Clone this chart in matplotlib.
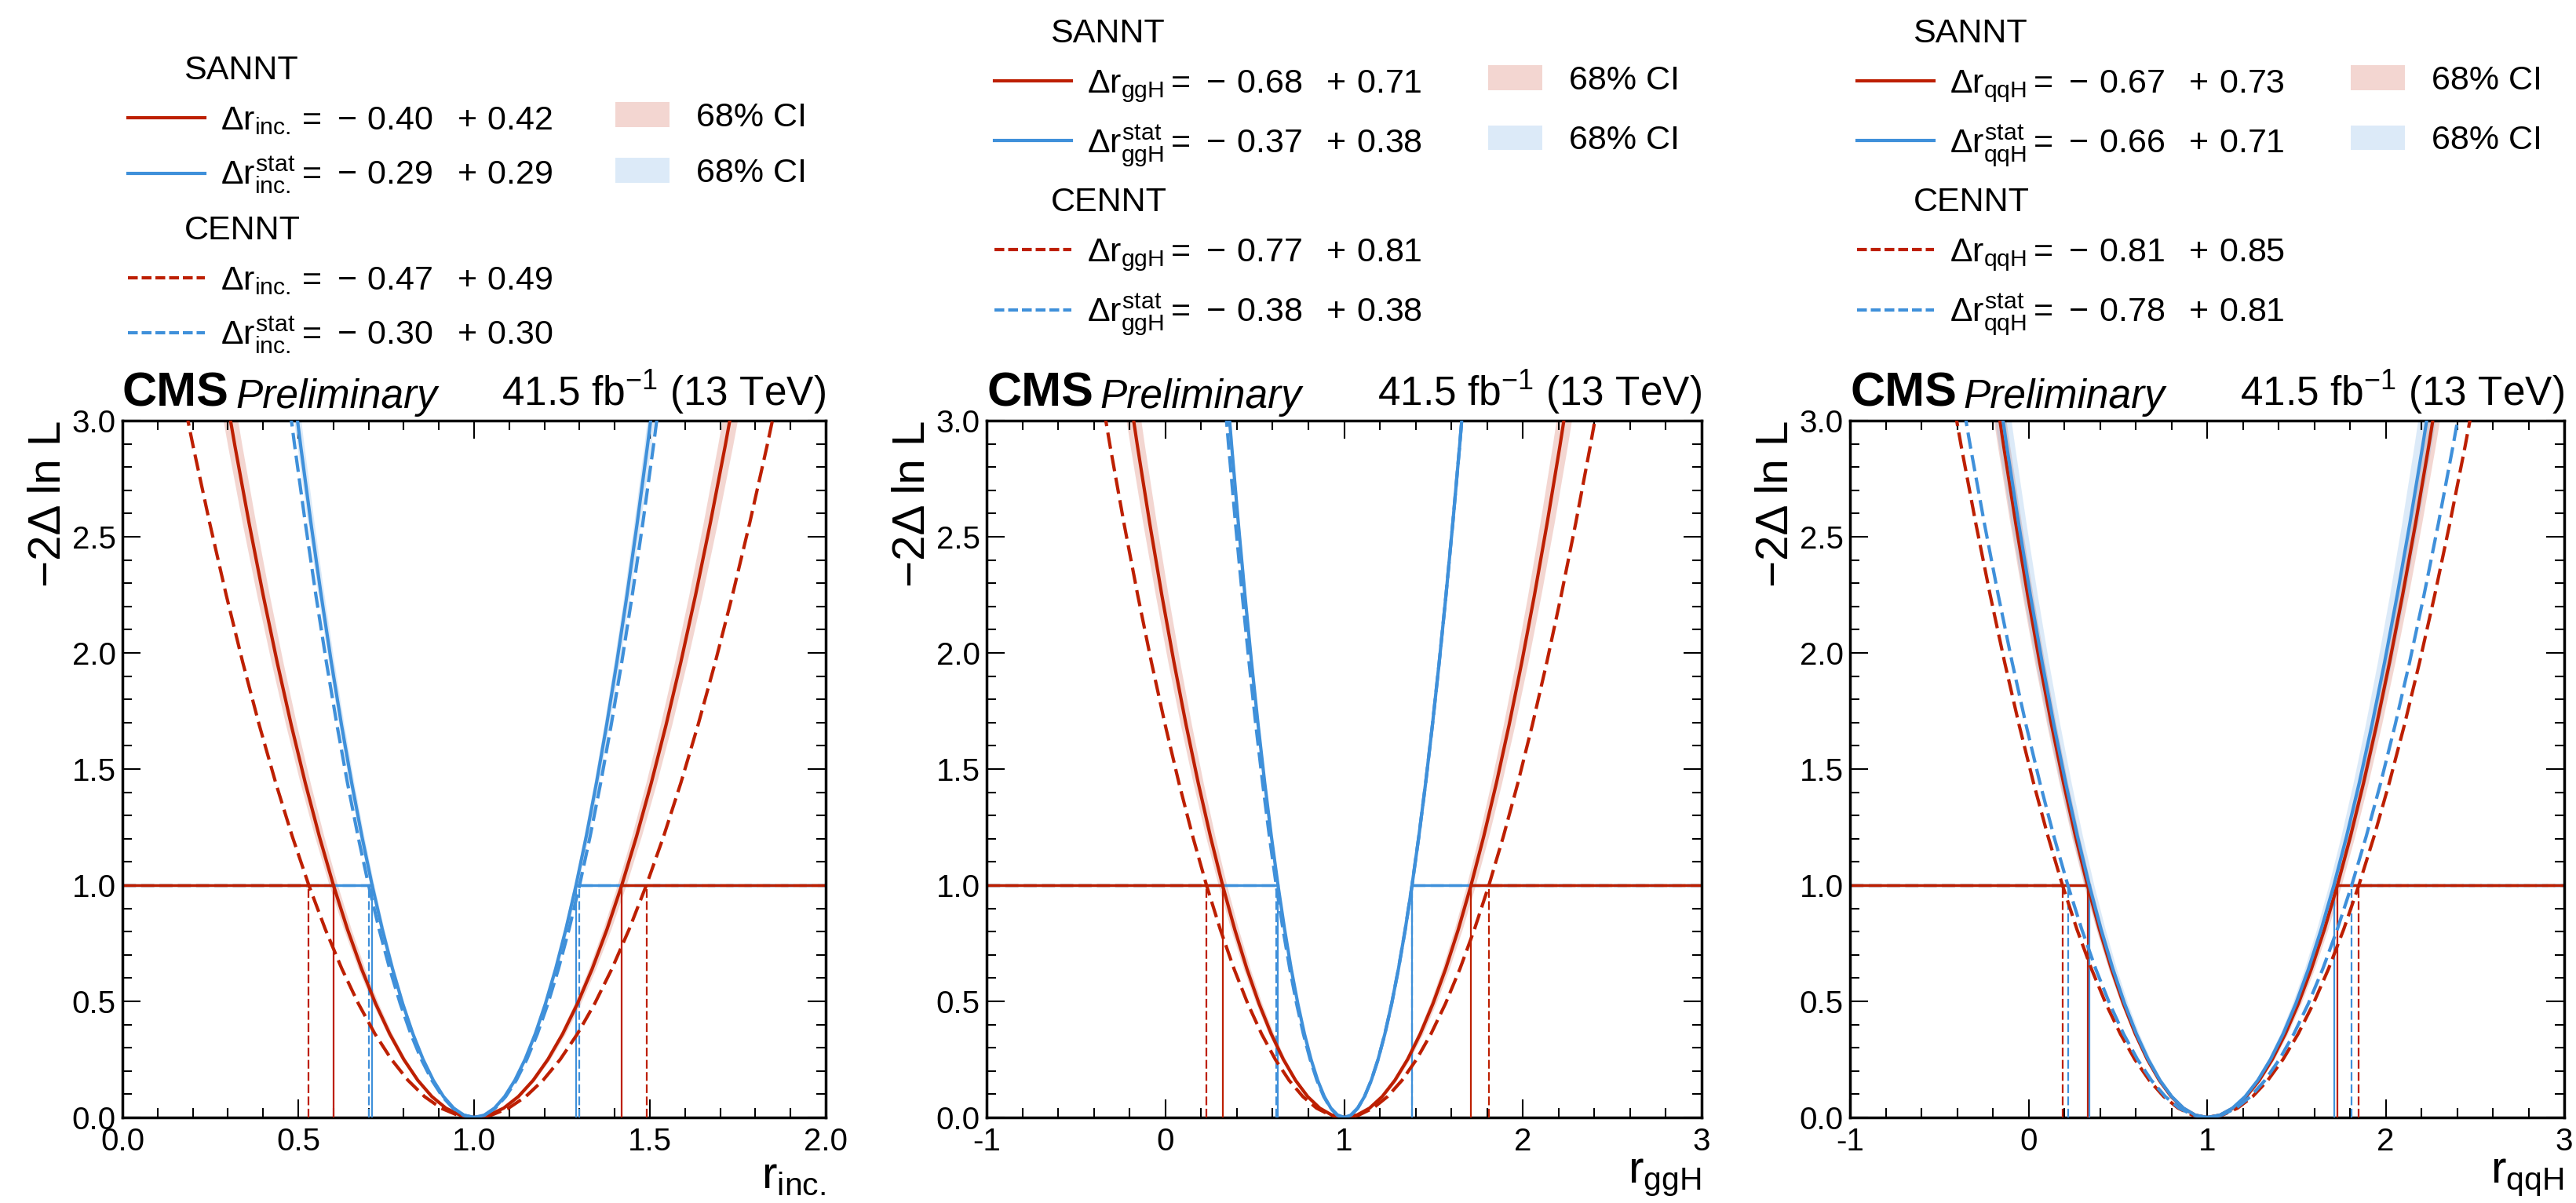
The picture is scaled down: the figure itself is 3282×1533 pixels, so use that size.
import matplotlib
matplotlib.use("Agg")
import matplotlib.pyplot as plt
from matplotlib.lines import Line2D
from matplotlib.patches import Patch
from matplotlib.ticker import MultipleLocator, FormatStrFormatter

plt.rcParams.update({
    "font.family": ["Liberation Sans", "DejaVu Sans"],
    "mathtext.fontset": "custom",
    "mathtext.rm": "Liberation Sans",
    "mathtext.it": "Liberation Sans",
    "mathtext.bf": "Liberation Sans:bold",
    "axes.unicode_minus": False,
})

# ---------------------------------------------------------------- data
best_fit = 1.0
threshold = 1.0

# -2 Delta lnL levels at which the scan positions were read
y_levels = [0.00, 0.01, 0.04, 0.09, 0.16, 0.25, 0.36, 0.49, 0.64, 0.81, 1.00,
            1.21, 1.44, 1.69, 1.96, 2.25, 2.56, 2.89, 3.24]

# panel 1 : r_inc.
inc_sannt_r_lo = [1.00, 0.96, 0.92, 0.88, 0.84, 0.80, 0.76, 0.72, 0.68, 0.64, 0.60,
                  0.56, 0.52, 0.48, 0.44, 0.40, 0.36, 0.32, 0.28]
inc_sannt_r_hi = [1.000, 1.042, 1.084, 1.126, 1.168, 1.210, 1.252, 1.294, 1.336, 1.378, 1.420,
                  1.462, 1.504, 1.546, 1.588, 1.630, 1.672, 1.714, 1.756]
inc_sannt_stat_r_lo = [1.000, 0.971, 0.942, 0.913, 0.884, 0.855, 0.826, 0.797, 0.768, 0.739, 0.710,
                       0.681, 0.652, 0.623, 0.594, 0.565, 0.536, 0.507, 0.478]
inc_sannt_stat_r_hi = [1.000, 1.029, 1.058, 1.087, 1.116, 1.145, 1.174, 1.203, 1.232, 1.261, 1.290,
                       1.319, 1.348, 1.377, 1.406, 1.435, 1.464, 1.493, 1.522]
inc_cennt_r_lo = [1.000, 0.953, 0.906, 0.859, 0.812, 0.765, 0.718, 0.671, 0.624, 0.577, 0.530,
                  0.483, 0.436, 0.389, 0.342, 0.295, 0.248, 0.201, 0.154]
inc_cennt_r_hi = [1.000, 1.049, 1.098, 1.147, 1.196, 1.245, 1.294, 1.343, 1.392, 1.441, 1.490,
                  1.539, 1.588, 1.637, 1.686, 1.735, 1.784, 1.833, 1.882]
inc_cennt_stat_r_lo = [1.00, 0.97, 0.94, 0.91, 0.88, 0.85, 0.82, 0.79, 0.76, 0.73, 0.70,
                       0.67, 0.64, 0.61, 0.58, 0.55, 0.52, 0.49, 0.46]
inc_cennt_stat_r_hi = [1.00, 1.03, 1.06, 1.09, 1.12, 1.15, 1.18, 1.21, 1.24, 1.27, 1.30,
                       1.33, 1.36, 1.39, 1.42, 1.45, 1.48, 1.51, 1.54]

# panel 2 : r_ggH
ggH_sannt_r_lo = [1.000, 0.932, 0.864, 0.796, 0.728, 0.660, 0.592, 0.524, 0.456, 0.388, 0.320,
                  0.252, 0.184, 0.116, 0.048, -0.020, -0.088, -0.156, -0.224]
ggH_sannt_r_hi = [1.000, 1.071, 1.142, 1.213, 1.284, 1.355, 1.426, 1.497, 1.568, 1.639, 1.710,
                  1.781, 1.852, 1.923, 1.994, 2.065, 2.136, 2.207, 2.278]
ggH_sannt_stat_r_lo = [1.000, 0.963, 0.926, 0.889, 0.852, 0.815, 0.778, 0.741, 0.704, 0.667, 0.630,
                       0.593, 0.556, 0.519, 0.482, 0.445, 0.408, 0.371, 0.334]
ggH_sannt_stat_r_hi = [1.000, 1.038, 1.076, 1.114, 1.152, 1.190, 1.228, 1.266, 1.304, 1.342, 1.380,
                       1.418, 1.456, 1.494, 1.532, 1.570, 1.608, 1.646, 1.684]
ggH_cennt_r_lo = [1.000, 0.923, 0.846, 0.769, 0.692, 0.615, 0.538, 0.461, 0.384, 0.307, 0.230,
                  0.153, 0.076, -0.001, -0.078, -0.155, -0.232, -0.309, -0.386]
ggH_cennt_r_hi = [1.000, 1.081, 1.162, 1.243, 1.324, 1.405, 1.486, 1.567, 1.648, 1.729, 1.810,
                  1.891, 1.972, 2.053, 2.134, 2.215, 2.296, 2.377, 2.458]
ggH_cennt_stat_r_lo = [1.000, 0.962, 0.924, 0.886, 0.848, 0.810, 0.772, 0.734, 0.696, 0.658, 0.620,
                       0.582, 0.544, 0.506, 0.468, 0.430, 0.392, 0.354, 0.316]
ggH_cennt_stat_r_hi = [1.000, 1.038, 1.076, 1.114, 1.152, 1.190, 1.228, 1.266, 1.304, 1.342, 1.380,
                       1.418, 1.456, 1.494, 1.532, 1.570, 1.608, 1.646, 1.684]

# panel 3 : r_qqH
qqH_sannt_r_lo = [1.000, 0.933, 0.866, 0.799, 0.732, 0.665, 0.598, 0.531, 0.464, 0.397, 0.330,
                  0.263, 0.196, 0.129, 0.062, -0.005, -0.072, -0.139, -0.206]
qqH_sannt_r_hi = [1.000, 1.073, 1.146, 1.219, 1.292, 1.365, 1.438, 1.511, 1.584, 1.657, 1.730,
                  1.803, 1.876, 1.949, 2.022, 2.095, 2.168, 2.241, 2.314]
qqH_sannt_stat_r_lo = [1.000, 0.934, 0.868, 0.802, 0.736, 0.670, 0.604, 0.538, 0.472, 0.406, 0.340,
                       0.274, 0.208, 0.142, 0.076, 0.010, -0.056, -0.122, -0.188]
qqH_sannt_stat_r_hi = [1.000, 1.071, 1.142, 1.213, 1.284, 1.355, 1.426, 1.497, 1.568, 1.639, 1.710,
                       1.781, 1.852, 1.923, 1.994, 2.065, 2.136, 2.207, 2.278]
qqH_cennt_r_lo = [1.000, 0.919, 0.838, 0.757, 0.676, 0.595, 0.514, 0.433, 0.352, 0.271, 0.190,
                  0.109, 0.028, -0.053, -0.134, -0.215, -0.296, -0.377, -0.458]
qqH_cennt_r_hi = [1.000, 1.085, 1.170, 1.255, 1.340, 1.425, 1.510, 1.595, 1.680, 1.765, 1.850,
                  1.935, 2.020, 2.105, 2.190, 2.275, 2.360, 2.445, 2.530]
qqH_cennt_stat_r_lo = [1.000, 0.922, 0.844, 0.766, 0.688, 0.610, 0.532, 0.454, 0.376, 0.298, 0.220,
                       0.142, 0.064, -0.014, -0.092, -0.170, -0.248, -0.326, -0.404]
qqH_cennt_stat_r_hi = [1.000, 1.081, 1.162, 1.243, 1.324, 1.405, 1.486, 1.567, 1.648, 1.729, 1.810,
                       1.891, 1.972, 2.053, 2.134, 2.215, 2.296, 2.377, 2.458]

# quoted intervals (-, +)
inc_sannt_err = [0.40, 0.42]
inc_sannt_stat_err = [0.29, 0.29]
inc_cennt_err = [0.47, 0.49]
inc_cennt_stat_err = [0.30, 0.30]
ggH_sannt_err = [0.68, 0.71]
ggH_sannt_stat_err = [0.37, 0.38]
ggH_cennt_err = [0.77, 0.81]
ggH_cennt_stat_err = [0.38, 0.38]
qqH_sannt_err = [0.67, 0.73]
qqH_sannt_stat_err = [0.66, 0.71]
qqH_cennt_err = [0.81, 0.85]
qqH_cennt_stat_err = [0.78, 0.81]

# relative half-width of the 68% CI bands (SANNT total, SANNT stat)
band_width_tot = [0.03, 0.035, 0.03]
band_width_stat = [0.02, 0.01, 0.04]

poi_names = ["inc.", "ggH", "qqH"]
x_ranges = [(0.0, 2.0), (-1.0, 3.0), (-1.0, 3.0)]
x_major = [0.5, 1.0, 1.0]
x_minor = [0.1, 0.2, 0.2]
x_fmt = ["%.1f", "%d", "%d"]
lumi_text = r"41.5 fb$^{-1}$ (13 TeV)"

# ---------------------------------------------------------------- style / layout
RED = "#bd1f01"
BLUE = "#3f90da"
W_PX, H_PX, DPI = 3282, 1533, 100
fig = plt.figure(figsize=(W_PX / DPI, H_PX / DPI), dpi=DPI)

ax_lr_px = [(156, 1052), (1257, 2168), (2357, 3267)]
ax_top_px, ax_bot_px = 536, 1424
leg_left_px = [163, 1267, 2366]
leg_top_px = [70, 23, 23]
ci_left_px = [784, 1896, 2995]

FS_TICK = 29
FS_LEG = 31
FS_LABEL = 42
FS_CMS = 44
FS_SUB = 37

curve_sets = [
    [(inc_sannt_r_lo, inc_sannt_r_hi, inc_sannt_err),
     (inc_sannt_stat_r_lo, inc_sannt_stat_r_hi, inc_sannt_stat_err),
     (inc_cennt_r_lo, inc_cennt_r_hi, inc_cennt_err),
     (inc_cennt_stat_r_lo, inc_cennt_stat_r_hi, inc_cennt_stat_err)],
    [(ggH_sannt_r_lo, ggH_sannt_r_hi, ggH_sannt_err),
     (ggH_sannt_stat_r_lo, ggH_sannt_stat_r_hi, ggH_sannt_stat_err),
     (ggH_cennt_r_lo, ggH_cennt_r_hi, ggH_cennt_err),
     (ggH_cennt_stat_r_lo, ggH_cennt_stat_r_hi, ggH_cennt_stat_err)],
    [(qqH_sannt_r_lo, qqH_sannt_r_hi, qqH_sannt_err),
     (qqH_sannt_stat_r_lo, qqH_sannt_stat_r_hi, qqH_sannt_stat_err),
     (qqH_cennt_r_lo, qqH_cennt_r_hi, qqH_cennt_err),
     (qqH_cennt_stat_r_lo, qqH_cennt_stat_r_hi, qqH_cennt_stat_err)],
]
# (color, dashed?, zorder)
curve_styles = [(RED, False, 3.1), (BLUE, False, 3.3), (RED, True, 3.0), (BLUE, True, 3.2)]
CURVE_DASH = (0, (5, 2))
VLINE_DASH = (0, (5, 2))
LEG_DASH = (0, (3, 1.2))


def make_label(name, err, stat):
    sub = r"\mathrm{" + name + "}"
    sup = r"^{\mathrm{stat}}" if stat else ""
    return (r"$\Delta r" + sup + "_{" + sub + "} = \\,-\\,%.2f\\ \\ +\\,%.2f$" % (err[0], err[1]))


legends_main = []
for ip in range(3):
    l, r = ax_lr_px[ip]
    ax = fig.add_axes([l / W_PX, 1 - ax_bot_px / H_PX, (r - l) / W_PX,
                       (ax_bot_px - ax_top_px) / H_PX])
    xmin, xmax = x_ranges[ip]
    ax.set_xlim(xmin, xmax)
    ax.set_ylim(0, 3)

    bands = [band_width_tot[ip], band_width_stat[ip], 0, 0]
    for (rlo, rhi, err), (col, dashed, z), bw in zip(curve_sets[ip], curve_styles, bands):
        ls = CURVE_DASH if dashed else "-"
        if bw > 0:
            for br in (rlo, rhi):
                inner = [best_fit + (v - best_fit) * (1 - bw) for v in br]
                outer = [best_fit + (v - best_fit) * (1 + bw) for v in br]
                ax.fill_betweenx(y_levels, inner, outer, color=col, alpha=0.18,
                                 lw=0, zorder=1)
        xs = rlo[::-1] + rhi[1:]
        ys = y_levels[::-1] + y_levels[1:]
        ax.plot(xs, ys, color=col, ls=ls, lw=3.0, zorder=z)
        x_lo = best_fit - err[0]
        x_hi = best_fit + err[1]
        hz = 2.5 if col == RED else 2.0
        ax.plot([xmin, x_lo], [threshold, threshold], color=col, ls=ls, lw=2.4, zorder=hz)
        ax.plot([x_hi, xmax], [threshold, threshold], color=col, ls=ls, lw=2.4, zorder=hz)
        vls = VLINE_DASH if dashed else "-"
        ax.plot([x_lo, x_lo], [0, threshold], color=col, ls=vls, lw=1.6, zorder=2.6)
        ax.plot([x_hi, x_hi], [0, threshold], color=col, ls=vls, lw=1.6, zorder=2.6)

    ax.xaxis.set_major_locator(MultipleLocator(x_major[ip]))
    ax.xaxis.set_minor_locator(MultipleLocator(x_minor[ip]))
    ax.xaxis.set_major_formatter(FormatStrFormatter(x_fmt[ip]))
    ax.yaxis.set_major_locator(MultipleLocator(0.5))
    ax.yaxis.set_minor_locator(MultipleLocator(0.1))
    ax.yaxis.set_major_formatter(FormatStrFormatter("%.1f"))
    ax.tick_params(which="both", direction="in", top=True, right=True,
                   labelsize=FS_TICK, width=1.5, colors="black")
    ax.tick_params(which="major", length=16.5)
    ax.tick_params(which="minor", length=8.6)
    ax.tick_params(axis="x", pad=9)
    ax.tick_params(axis="y", pad=6)
    for sp in ax.spines.values():
        sp.set_linewidth(2.5)

    ax.set_ylabel("\u22122\u0394 ln L", loc="top", fontsize=FS_LABEL, labelpad=2)
    ax.set_xlabel(r"r$_{\mathrm{" + poi_names[ip] + "}}$", loc="right",
                  fontsize=FS_LABEL, labelpad=-2)

    cms = ax.text(0, 1.006, "CMS", transform=ax.transAxes, fontsize=FS_CMS,
                  fontweight="bold", ha="left", va="bottom")
    ax.annotate("Preliminary", xy=(1, 0), xycoords=cms, xytext=(6, 0),
                textcoords="offset points", fontsize=FS_SUB, style="italic",
                ha="left", va="bottom")
    ax.text(1, 1.006, lumi_text, transform=ax.transAxes, fontsize=FS_SUB,
            ha="right", va="bottom")

    # legend (column 1)
    errs = [c[2] for c in curve_sets[ip]]
    handles = [
        Line2D([], [], color="none"),
        Line2D([], [], color=RED, lw=3.0),
        Line2D([], [], color=BLUE, lw=3.0),
        Line2D([], [], color="none"),
        Line2D([], [], color=RED, lw=3.0, ls=LEG_DASH),
        Line2D([], [], color=BLUE, lw=3.0, ls=LEG_DASH),
    ]
    labels = [
        "SANNT",
        make_label(poi_names[ip], errs[0], False),
        make_label(poi_names[ip], errs[1], True),
        "CENNT",
        make_label(poi_names[ip], errs[2], False),
        make_label(poi_names[ip], errs[3], True),
    ]
    leg = fig.legend(handles, labels, loc="upper left",
                     bbox_to_anchor=(leg_left_px[ip] / W_PX, 1 - leg_top_px[ip] / H_PX),
                     bbox_transform=fig.transFigure, frameon=False, fontsize=FS_LEG,
                     borderpad=0, borderaxespad=0, handlelength=2.28,
                     handletextpad=0.47, labelspacing=0.56)
    # group headers start a little left of the entry texts
    for it in (0, 3):
        leg.get_texts()[it].set_x(-47)
    legends_main.append(leg)

# CI legend entries aligned with the SANNT rows
fig.canvas.draw()
renderer = fig.canvas.get_renderer()
for ip, leg in enumerate(legends_main):
    x0 = ci_left_px[ip]
    for i, col in ((1, RED), (2, BLUE)):
        bb = leg.legend_handles[i].get_window_extent(renderer)
        yc = 0.5 * (bb.y0 + bb.y1)
        fig.legend([Patch(facecolor=col, alpha=0.18, edgecolor="none")], ["68% CI"],
                   loc="center left", bbox_to_anchor=(x0 / W_PX, yc / H_PX),
                   bbox_transform=fig.transFigure, frameon=False, fontsize=FS_LEG,
                   borderpad=0, borderaxespad=0, handlelength=1.6,
                   handleheight=0.75, handletextpad=0.8)

fig.savefig("out.png", dpi=DPI)
